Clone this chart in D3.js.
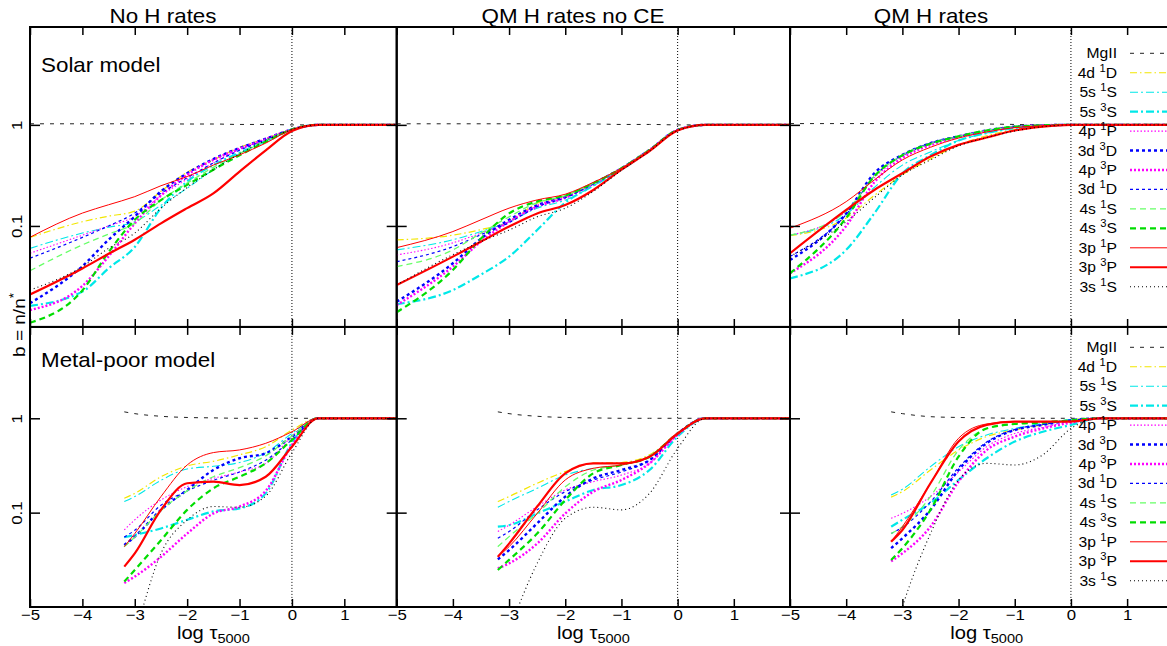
<!DOCTYPE html>
<html>
<head>
<meta charset="utf-8">
<script src="https://cdn.jsdelivr.net/npm/d3@7"></script>
<style>
  body { margin: 0; background: #fff; }
  text { font-family: "Liberation Sans", Arial, Helvetica, sans-serif; fill: #000; }
</style>
</head>
<body>
<div id="chart"></div>
<script>
// level names, in plot / legend order
var levels = ["MgII", "4d 1D", "5s 1S", "5s 3S", "4p 1P", "3d 3D", "4p 3P", "3d 1D", "4s 1S", "4s 3S", "3p 1P", "3p 3P", "3s 1S"];

var colTitles = ["No H rates", "QM H rates no CE", "QM H rates"];
var rowLabels = ["Solar model", "Metal-poor model"];
var xTicks = [-5, -4, -3, -2, -1, 0, 1];
var yTicks = [0.1, 1];

// log tau_5000 grid of the sampled points
var xTop = [-5, -4, -3.5, -3, -2.5, -2, -1.5, -1, -0.5, 0, 0.5, 2];
var xBot = [-3.2, -3, -2.5, -2, -1.5, -1, -0.5, 0, 0.5, 2];

// departure coefficients b = n/n*, one row per level
var solarNoH = [
  [1.025, 1.025, 1.025, 1.025, 1.025, 1.02, 1.02, 1.01, 1.01, 1.0, 1.0, 1.0],
  [0.077, 0.11, 0.125, 0.14, 0.22, 0.34, 0.45, 0.6, 0.73, 0.9, 1, 1],
  [0.06, 0.085, 0.097, 0.11, 0.16, 0.236, 0.36, 0.52, 0.68, 0.9, 1, 1],
  [0.0162, 0.0224, 0.038, 0.062, 0.15, 0.275, 0.4, 0.53, 0.69, 0.9, 1, 1],
  [0.0537, 0.081, 0.1, 0.124, 0.2, 0.29, 0.42, 0.57, 0.72, 0.9, 1, 1],
  [0.0172, 0.04, 0.073, 0.124, 0.22, 0.332, 0.46, 0.59, 0.73, 0.9, 1, 1],
  [0.0147, 0.0255, 0.05, 0.106, 0.2, 0.32, 0.45, 0.58, 0.72, 0.9, 1, 1],
  [0.0479, 0.077, 0.1, 0.134, 0.21, 0.3, 0.42, 0.56, 0.71, 0.9, 1, 1],
  [0.036, 0.065, 0.083, 0.106, 0.18, 0.265, 0.38, 0.52, 0.7, 0.9, 1, 1],
  [0.011, 0.023, 0.055, 0.115, 0.18, 0.255, 0.36, 0.5, 0.68, 0.9, 1, 1],
  [0.0773, 0.134, 0.162, 0.195, 0.25, 0.308, 0.4, 0.505, 0.66, 0.9, 1, 1],
  [0.021, 0.038, 0.053, 0.073, 0.106, 0.15, 0.21, 0.345, 0.56, 0.87, 1, 1],
  [0.0232, 0.0396, 0.06, 0.085, 0.15, 0.24, 0.36, 0.52, 0.7, 0.9, 1, 1]
];

var solarNoCE = [
  [1.025, 1.025, 1.025, 1.025, 1.025, 1.02, 1.02, 1.01, 1.01, 1.0, 1.0, 1.0],
  [0.0727, 0.081, 0.092, 0.11, 0.168, 0.195, 0.265, 0.372, 0.565, 0.89, 1, 1],
  [0.058, 0.073, 0.088, 0.11, 0.15, 0.18, 0.25, 0.365, 0.56, 0.89, 1, 1],
  [0.0168, 0.0232, 0.033, 0.0497, 0.091, 0.17, 0.25, 0.36, 0.56, 0.89, 1, 1],
  [0.0516, 0.068, 0.085, 0.11, 0.16, 0.195, 0.264, 0.372, 0.565, 0.89, 1, 1],
  [0.0178, 0.0427, 0.075, 0.115, 0.16, 0.195, 0.264, 0.372, 0.565, 0.89, 1, 1],
  [0.0165, 0.0396, 0.07, 0.11, 0.155, 0.19, 0.26, 0.37, 0.565, 0.89, 1, 1],
  [0.0443, 0.0624, 0.082, 0.108, 0.155, 0.19, 0.26, 0.37, 0.565, 0.89, 1, 1],
  [0.0396, 0.058, 0.085, 0.123, 0.17, 0.2, 0.265, 0.372, 0.565, 0.89, 1, 1],
  [0.014, 0.0367, 0.075, 0.133, 0.175, 0.2, 0.265, 0.372, 0.565, 0.89, 1, 1],
  [0.061, 0.088, 0.115, 0.15, 0.181, 0.206, 0.27, 0.372, 0.565, 0.89, 1, 1],
  [0.026, 0.0497, 0.07, 0.0985, 0.133, 0.161, 0.227, 0.36, 0.55, 0.88, 1, 1],
  [0.026, 0.052, 0.07, 0.091, 0.123, 0.15, 0.22, 0.355, 0.55, 0.88, 1, 1]
];

var solarQM = [
  [1.03, 1.03, 1.03, 1.03, 1.03, 1.025, 1.02, 1.01, 1.0, 1.0, 1.0, 1.0],
  [0.08, 0.12, 0.2, 0.32, 0.46, 0.63, 0.78, 0.9, 0.97, 1, 1, 1],
  [0.081, 0.13, 0.24, 0.4, 0.54, 0.7, 0.83, 0.93, 0.98, 1, 1, 1],
  [0.0303, 0.058, 0.133, 0.33, 0.5, 0.7, 0.83, 0.93, 0.98, 1, 1, 1],
  [0.081, 0.14, 0.3, 0.49, 0.65, 0.77, 0.88, 0.96, 0.99, 1, 1, 1],
  [0.046, 0.133, 0.332, 0.505, 0.66, 0.77, 0.88, 0.96, 0.99, 1, 1, 1],
  [0.034, 0.1, 0.27, 0.47, 0.63, 0.76, 0.87, 0.95, 0.99, 1, 1, 1],
  [0.05, 0.13, 0.31, 0.5, 0.66, 0.77, 0.88, 0.96, 0.99, 1, 1, 1],
  [0.081, 0.14, 0.31, 0.5, 0.65, 0.77, 0.88, 0.96, 0.99, 1, 1, 1],
  [0.034, 0.12, 0.31, 0.5, 0.65, 0.77, 0.88, 0.96, 0.99, 1, 1, 1],
  [0.095, 0.174, 0.285, 0.45, 0.6, 0.74, 0.85, 0.94, 0.98, 1, 1, 1],
  [0.0536, 0.144, 0.227, 0.332, 0.486, 0.634, 0.75, 0.88, 0.96, 1, 1, 1],
  [0.05, 0.11, 0.19, 0.32, 0.45, 0.62, 0.75, 0.87, 0.96, 1, 1, 1]
];

var poorNoH = [
  [1.17, 1.12, 1.05, 1.02, 1.01, 1.0, 1.0, 1.0, 1.0, 1.0],
  [0.142, 0.16, 0.24, 0.313, 0.35, 0.41, 0.5, 0.75, 1, 1],
  [0.131, 0.148, 0.22, 0.29, 0.31, 0.34, 0.43, 0.69, 1, 1],
  [0.0548, 0.058, 0.068, 0.084, 0.103, 0.111, 0.16, 0.55, 1, 1],
  [0.0655, 0.084, 0.136, 0.189, 0.231, 0.27, 0.333, 0.64, 1, 1],
  [0.0454, 0.0557, 0.107, 0.174, 0.283, 0.377, 0.425, 0.64, 1, 1],
  [0.018, 0.021, 0.034, 0.06, 0.098, 0.116, 0.17, 0.52, 1, 1],
  [0.055, 0.065, 0.12, 0.17, 0.22, 0.27, 0.36, 0.59, 1, 1],
  [0.0436, 0.055, 0.105, 0.17, 0.24, 0.3, 0.4, 0.65, 1, 1],
  [0.0186, 0.0247, 0.051, 0.107, 0.181, 0.24, 0.333, 0.59, 1, 1],
  [0.0436, 0.06, 0.148, 0.32, 0.433, 0.462, 0.543, 0.72, 1, 1],
  [0.0268, 0.037, 0.107, 0.205, 0.213, 0.196, 0.24, 0.5, 1, 1],
  [0.0024, 0.0052, 0.037, 0.0836, 0.116, 0.114, 0.15, 0.43, 1, 1]
];

var poorNoCE = [
  [1.17, 1.12, 1.05, 1.02, 1.01, 1.0, 1.0, 1.0, 1.0, 1.0],
  [0.131, 0.148, 0.205, 0.272, 0.334, 0.34, 0.41, 0.69, 1, 1],
  [0.114, 0.131, 0.181, 0.25, 0.295, 0.32, 0.4, 0.69, 1, 1],
  [0.071, 0.0737, 0.098, 0.131, 0.174, 0.196, 0.283, 0.64, 1, 1],
  [0.063, 0.0737, 0.116, 0.174, 0.213, 0.25, 0.333, 0.67, 1, 1],
  [0.032, 0.04, 0.077, 0.148, 0.231, 0.283, 0.36, 0.69, 1, 1],
  [0.0257, 0.029, 0.047, 0.098, 0.167, 0.222, 0.333, 0.67, 1, 1],
  [0.0535, 0.063, 0.107, 0.167, 0.222, 0.27, 0.36, 0.69, 1, 1],
  [0.0436, 0.0557, 0.098, 0.188, 0.283, 0.32, 0.39, 0.69, 1, 1],
  [0.0247, 0.0316, 0.06, 0.136, 0.261, 0.32, 0.39, 0.69, 1, 1],
  [0.034, 0.0436, 0.098, 0.222, 0.295, 0.32, 0.39, 0.69, 1, 1],
  [0.034, 0.047, 0.116, 0.261, 0.333, 0.333, 0.392, 0.69, 1, 1],
  [0.0025, 0.0055, 0.029, 0.087, 0.114, 0.107, 0.16, 0.48, 1, 1]
];

var poorQM = [
  [1.17, 1.12, 1.04, 1.02, 1.01, 1.0, 1.0, 1.0, 1.0, 1.0],
  [0.146, 0.167, 0.283, 0.46, 0.64, 0.75, 0.85, 0.96, 1, 1],
  [0.154, 0.177, 0.307, 0.5, 0.666, 0.78, 0.885, 0.97, 1, 1],
  [0.071, 0.084, 0.126, 0.222, 0.377, 0.566, 0.72, 0.85, 1, 1],
  [0.087, 0.098, 0.148, 0.27, 0.5, 0.69, 0.8, 0.92, 1, 1],
  [0.042, 0.0535, 0.107, 0.283, 0.543, 0.75, 0.85, 0.95, 1, 1],
  [0.0305, 0.037, 0.071, 0.213, 0.46, 0.64, 0.78, 0.9, 1, 1],
  [0.06, 0.07, 0.13, 0.3, 0.56, 0.76, 0.86, 0.95, 1, 1],
  [0.06, 0.071, 0.148, 0.46, 0.78, 0.87, 0.92, 0.95, 1, 1],
  [0.0315, 0.042, 0.107, 0.392, 0.78, 0.87, 0.9, 0.95, 1, 1],
  [0.0493, 0.071, 0.205, 0.614, 0.87, 0.92, 0.92, 0.93, 1, 1],
  [0.0493, 0.0655, 0.205, 0.566, 0.85, 0.92, 0.92, 0.92, 1, 1],
  [0.004, 0.01, 0.06, 0.222, 0.333, 0.32, 0.41, 0.78, 1, 1]
];

var panels = [[solarNoH, solarNoCE, solarQM], [poorNoH, poorNoCE, poorQM]];
var rowX = [xTop, xBot];

// line styles, same order as levels
var colors = ["#222", "#f2e600", "#00e8e8", "#00e8e8", "#ff00ff", "#0000ff", "#ff00ff", "#0000ff", "#66ff66", "#00dd00", "#ff0000", "#ff0000", "#000"];
var widths = [1, 1.2, 1.1, 2.2, 1.1, 2.4, 2.4, 1.2, 1.3, 2.2, 1, 2.2, 1.1];
var dashes = ["4,6", "7,3,1.5,3", "8,3,2,3", "8,3,2,3", "1.5,2", "3,3", "2,2", "3,3", "6,4", "6,4", null, null, "1,3"];

var width = 1167, height = 646,
    cols = [[30, 396.7], [396.7, 790], [790, 1183.3]],
    rows = [[327, 27], [607, 326.9]],
    yMax = 9.3,
    stretch = 1.12;

var svg = d3.select("#chart").append("svg")
    .attr("width", width)
    .attr("height", height);

var line = d3.line().curve(d3.curveMonotoneX);
var fmt = d3.format("~g");

for (var r = 0; r < 2; r++) {
  for (var c = 0; c < 3; c++) {
    var x = d3.scaleLinear().domain([-5, 2]).range(cols[c]);
    var y = d3.scaleLog().domain([0.01, yMax]).range(rows[r]);
    var y0px = rows[r][1], y1px = rows[r][0];

    svg.append("clipPath")
        .attr("id", "clip" + r + c)
      .append("rect")
        .attr("x", cols[c][0])
        .attr("y", y0px)
        .attr("width", cols[c][1] - cols[c][0])
        .attr("height", y1px - y0px);

    var g = svg.append("g");

    // tau = 1 marker
    g.append("line")
        .attr("x1", x(0)).attr("x2", x(0))
        .attr("y1", y0px).attr("y2", y1px)
        .attr("stroke", "#000")
        .attr("stroke-width", 1)
        .attr("stroke-dasharray", "1,2");

    var plot = g.append("g").attr("clip-path", "url(#clip" + r + c + ")");
    var data = panels[r][c], xs = rowX[r];
    levels.forEach(function(lv, i) {
      plot.append("path")
          .attr("d", line(xs.map(function(xv, j) { return [x(xv), y(data[i][j])]; })))
          .attr("fill", "none")
          .attr("stroke", colors[i])
          .attr("stroke-width", widths[i])
          .attr("stroke-dasharray", dashes[i]);
    });

    // axes, ticks pointing inwards
    var xb = g.append("g")
        .attr("transform", "translate(0," + y1px + ")")
        .call(d3.axisBottom(x).tickValues(xTicks).tickSizeInner(-8).tickSizeOuter(0).tickPadding(2)
          .tickFormat(r == 1 ? fmt : function() { return ""; }));
    xb.selectAll("text")
        .attr("font-size", 15)
        .attr("transform", "scale(" + stretch + ",1)");

    g.append("g")
        .attr("transform", "translate(0," + y0px + ")")
        .call(d3.axisTop(x).tickValues(xTicks).tickSizeInner(-8).tickSizeOuter(0).tickFormat(function() { return ""; }));

    var yl = g.append("g")
        .attr("transform", "translate(" + cols[c][0] + ",0)")
        .call(d3.axisLeft(y).tickValues(yTicks).tickSizeInner(-10).tickSizeOuter(0)
          .tickFormat(c == 0 ? fmt : function() { return ""; }));
    yl.selectAll("text")
        .attr("font-size", 15)
        .attr("text-anchor", "middle")
        .attr("x", 0).attr("y", -8).attr("dy", 0)
        .attr("transform", "rotate(-90) scale(" + stretch + ",1)");

    g.append("g")
        .attr("transform", "translate(" + cols[c][1] + ",0)")
        .call(d3.axisRight(y).tickValues(yTicks).tickSizeInner(-10).tickSizeOuter(0).tickFormat(function() { return ""; }));

    g.selectAll(".domain").remove();
    g.selectAll("g").attr("font-family", null);
    g.selectAll(".tick line").attr("stroke-width", 1.5);

    g.append("rect")
        .attr("x", cols[c][0])
        .attr("y", y0px)
        .attr("width", cols[c][1] - cols[c][0])
        .attr("height", y1px - y0px)
        .attr("fill", "none")
        .attr("stroke", "#000")
        .attr("stroke-width", 2);

    if (r == 1) {
      var xl = svg.append("text")
          .attr("text-anchor", "middle")
          .attr("font-size", 18)
          .attr("transform", "translate(" + d3.mean(cols[c]) + ",638.5) scale(" + stretch + ",1)");
      xl.append("tspan").text("log \u03c4");
      xl.append("tspan").attr("font-size", 13).attr("dy", 4).text("5000");
    }
  }
}

// column titles
var titleX = [163, 573, 931];
colTitles.forEach(function(t, i) {
  svg.append("text")
      .attr("text-anchor", "middle")
      .attr("font-size", 20)
      .attr("transform", "translate(" + titleX[i] + ",22.5) scale(" + stretch + ",1)")
      .text(t);
});

// model labels
var rowLabelY = [71.5, 367];
rowLabels.forEach(function(t, i) {
  svg.append("text")
      .attr("font-size", 20)
      .attr("transform", "translate(41," + rowLabelY[i] + ") scale(" + stretch + ",1)")
      .text(t);
});

// y axis title
var yt = svg.append("text")
    .attr("text-anchor", "middle")
    .attr("font-size", 17)
    .attr("transform", "translate(25,325) rotate(-90) scale(" + stretch + ",1)");
yt.append("tspan").text("b = n/n");
yt.append("tspan").attr("font-size", 12).attr("dy", -7).text("*");

// legends in the right hand panels
var legendTop = [53.3, 347.3], legendStep = 19.45;
legendTop.forEach(function(ly) {
  var lg = svg.append("g");
  levels.forEach(function(lv, i) {
    var yy = ly + i * legendStep;
    var parts = lv.split(" ");
    var t = lg.append("text")
        .attr("text-anchor", "end")
        .attr("font-size", 14)
        .style("white-space", "pre")
        .attr("transform", "translate(1117," + (yy + 5) + ") scale(" + stretch + ",1)");
    if (parts.length == 1) {
      t.text(lv);
    } else {
      t.append("tspan").text(parts[0] + " ");
      t.append("tspan").attr("font-size", 10).attr("dy", -6).text(parts[1][0]);
      t.append("tspan").attr("dy", 6).text(parts[1].slice(1));
    }
    lg.append("line")
        .attr("x1", 1130).attr("x2", 1185)
        .attr("y1", yy).attr("y2", yy)
        .attr("stroke", colors[i])
        .attr("stroke-width", widths[i])
        .attr("stroke-dasharray", dashes[i]);
  });
});
</script>
</body>
</html>
